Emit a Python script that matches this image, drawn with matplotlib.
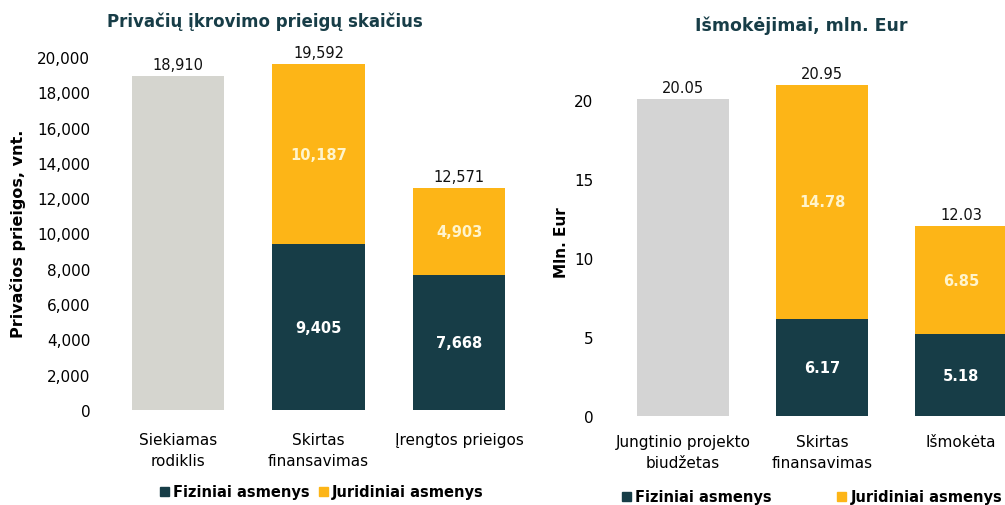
import matplotlib
matplotlib.use("Agg")
import matplotlib.pyplot as plt
from matplotlib.patches import Patch

# --- duomenys ---
left_cats = ["Siekiamas\nrodiklis", "Skirtas\nfinansavimas", "Įrengtos prieigos"]
left_target = 18910
left_fiz = [9405, 7668]
left_jur = [10187, 4903]
left_ticks = [0, 2000, 4000, 6000, 8000, 10000, 12000, 14000, 16000, 18000, 20000]

right_cats = ["Jungtinio projekto\nbiudžetas", "Skirtas\nfinansavimas", "Išmokėta"]
right_target = 20.05
right_fiz = [6.17, 5.18]
right_jur = [14.78, 6.85]
right_ticks = [0, 5, 10, 15, 20]

DARK = "#173d47"
ORANGE = "#fdb517"
GREY_L = "#d5d5cf"
GREY_R = "#d4d4d4"
TITLE_C = "#173d47"

plt.rcParams["font.family"] = ["DejaVu Sans"]

W, H = 1005, 506
fig = plt.figure(figsize=(W / 100, H / 100), dpi=100)


def ax_px(left, right, bottom, top):
    return fig.add_axes([left / W, 1 - bottom / H, (right - left) / W, (bottom - top) / H])


def draw(ax, cats, target, fiz, jur, fmt, grey):
    x = [0, 1, 2]
    bw = 0.655
    ax.bar(x[0], target, width=bw, color=grey, linewidth=0)
    ax.bar(x[1:], fiz, width=bw, color=DARK, linewidth=0)
    ax.bar(x[1:], jur, width=bw, bottom=fiz, color=ORANGE, linewidth=0)
    off = ax.get_ylim()[1] * 0.012
    ax.text(x[0], target + off, fmt(target), ha="center", va="bottom", fontsize=10.5, color="#111111")
    for i, (f, j) in enumerate(zip(fiz, jur)):
        xi = x[i + 1]
        ax.text(xi, f + j + off, fmt(f + j), ha="center", va="bottom", fontsize=10.5, color="#111111")
        ax.text(xi, f / 2, fmt(f), ha="center", va="center", fontsize=10.5,
                color="white", fontweight="bold")
        ax.text(xi, f + j / 2, fmt(j), ha="center", va="center", fontsize=10.5,
                color="#fff4cc", fontweight="bold")
    ax.set_xticks(x)
    ax.set_xticklabels(cats, fontsize=11, linespacing=1.5)
    for s in ax.spines.values():
        s.set_visible(False)
    ax.tick_params(length=0)


# kairė diagrama
ax1 = ax_px(100, 530, 411, 411 - 20.5 * 17.65)
ax1.set_ylim(0, 20500)
ax1.set_xlim((100 - 178) / 140.5, (530 - 178) / 140.5)
draw(ax1, left_cats, left_target, left_fiz, left_jur, lambda v: f"{v:,.0f}", GREY_L)
ax1.set_yticks(left_ticks)
ax1.set_yticklabels([f"{t:,}" for t in left_ticks], fontsize=11)
ax1.tick_params(axis="y", pad=7)
ax1.tick_params(axis="x", pad=16)

# dešinė diagrama
ax2 = ax_px(610, 1005, 417, 417 - 21.2 * 15.8)
ax2.set_ylim(0, 21.2)
ax2.set_xlim((610 - 683) / 139, (1005 - 683) / 139)
draw(ax2, right_cats, right_target, right_fiz, right_jur, lambda v: f"{v:.2f}", GREY_R)
ax2.set_yticks(right_ticks)
ax2.set_yticklabels([str(t) for t in right_ticks], fontsize=11)
ax2.tick_params(axis="y", pad=12)
ax2.tick_params(axis="x", pad=13)

# pavadinimai
fig.text(265 / W, 1 - 22 / H, "Privačių įkrovimo prieigų skaičius", ha="center", va="center",
         fontsize=12, fontweight="bold", color=TITLE_C)
fig.text(801 / W, 1 - 26 / H, "Išmokėjimai, mln. Eur", ha="center", va="center",
         fontsize=12.5, fontweight="bold", color=TITLE_C)
fig.text(18 / W, 1 - 234 / H, "Privačios prieigos, vnt.", rotation=90, ha="center", va="center",
         fontsize=11.5, fontweight="bold")
fig.text(562 / W, 1 - 243 / H, "Mln. Eur", rotation=90, ha="center", va="center",
         fontsize=11, fontweight="bold")

# legendos
handles = [Patch(color=DARK), Patch(color=ORANGE)]
labels = ["Fiziniai asmenys", "Juridiniai asmenys"]
leg_kw = dict(ncol=2, frameon=False, handlelength=0.6, handleheight=0.6, handletextpad=0.3,
              prop={"weight": "bold", "size": 10.5})
fig.legend(handles, labels, loc="center", bbox_to_anchor=(322 / W, 1 - 493 / H),
           columnspacing=0.6, **leg_kw)
fig.legend(handles, labels, loc="center", bbox_to_anchor=(812 / W, 1 - 498 / H),
           columnspacing=4.5, **leg_kw)

fig.savefig("out.png", dpi=100)
